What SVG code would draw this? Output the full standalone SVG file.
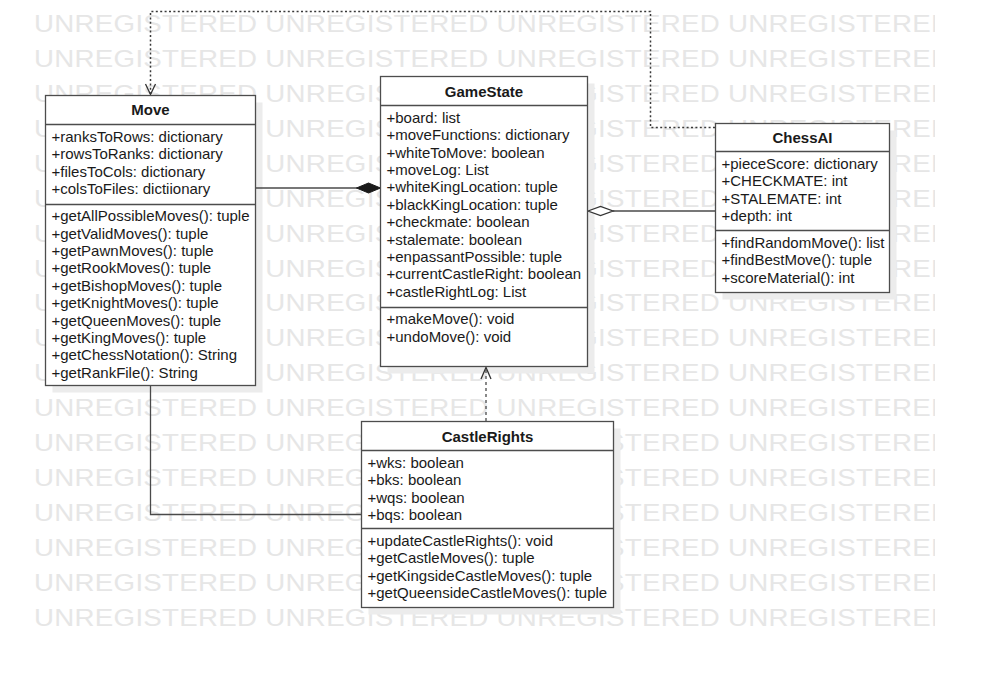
<svg xmlns="http://www.w3.org/2000/svg" width="984" height="700" viewBox="0 0 984 700">
  <defs>
    <style>
      .wm { font-family: "Liberation Sans", Arial, sans-serif; font-size: 23.5px; letter-spacing: 0.25px; fill: #e6e6e6; }
      .shadow { fill: #ececec; }
      .box { fill: #ffffff; stroke: #4d4d4d; stroke-width: 1.3; }
      .sep { stroke: #4d4d4d; stroke-width: 1.3; }
      .title { font-family: "Liberation Sans", Arial, sans-serif; font-size: 15px; font-weight: bold; fill: #1a1a1a; text-anchor: middle; }
      .item { font-family: "Liberation Sans", Arial, sans-serif; font-size: 15px; fill: #1a1a1a; }
      .line { fill: none; stroke: #4a4a4a; stroke-width: 1.3; }
      .dotted { stroke-dasharray: 2 2.4; stroke: #3a3a3a; stroke-width: 1.5; }
      .dashed { stroke-dasharray: 3 3; }
      .open { fill: none; stroke: #333333; stroke-width: 1.3; }
    </style>
    <clipPath id="wmClip">
      <rect x="0" y="0" width="935" height="700"/>
    </clipPath>
  </defs>

  <rect x="0" y="0" width="984" height="700" fill="#ffffff"/>

  <!-- background watermark rows, stretched horizontally -->
  <g id="watermark" clip-path="url(#wmClip)">
    <g transform="scale(1.178,1)">
      <text class="wm" x="28.9" y="32.3">UNREGISTERED UNREGISTERED UNREGISTERED UNREGISTERED</text>
      <text class="wm" x="28.9" y="67.2">UNREGISTERED UNREGISTERED UNREGISTERED UNREGISTERED</text>
      <text class="wm" x="28.9" y="102.1">UNREGISTERED UNREGISTERED UNREGISTERED UNREGISTERED</text>
      <text class="wm" x="28.9" y="137">UNREGISTERED UNREGISTERED UNREGISTERED UNREGISTERED</text>
      <text class="wm" x="28.9" y="171.9">UNREGISTERED UNREGISTERED UNREGISTERED UNREGISTERED</text>
      <text class="wm" x="28.9" y="206.8">UNREGISTERED UNREGISTERED UNREGISTERED UNREGISTERED</text>
      <text class="wm" x="28.9" y="241.7">UNREGISTERED UNREGISTERED UNREGISTERED UNREGISTERED</text>
      <text class="wm" x="28.9" y="276.6">UNREGISTERED UNREGISTERED UNREGISTERED UNREGISTERED</text>
      <text class="wm" x="28.9" y="311.5">UNREGISTERED UNREGISTERED UNREGISTERED UNREGISTERED</text>
      <text class="wm" x="28.9" y="346.4">UNREGISTERED UNREGISTERED UNREGISTERED UNREGISTERED</text>
      <text class="wm" x="28.9" y="381.3">UNREGISTERED UNREGISTERED UNREGISTERED UNREGISTERED</text>
      <text class="wm" x="28.9" y="416.2">UNREGISTERED UNREGISTERED UNREGISTERED UNREGISTERED</text>
      <text class="wm" x="28.9" y="451.1">UNREGISTERED UNREGISTERED UNREGISTERED UNREGISTERED</text>
      <text class="wm" x="28.9" y="486">UNREGISTERED UNREGISTERED UNREGISTERED UNREGISTERED</text>
      <text class="wm" x="28.9" y="520.9">UNREGISTERED UNREGISTERED UNREGISTERED UNREGISTERED</text>
      <text class="wm" x="28.9" y="555.8">UNREGISTERED UNREGISTERED UNREGISTERED UNREGISTERED</text>
      <text class="wm" x="28.9" y="590.7">UNREGISTERED UNREGISTERED UNREGISTERED UNREGISTERED</text>
      <text class="wm" x="28.9" y="625.6">UNREGISTERED UNREGISTERED UNREGISTERED UNREGISTERED</text>
    </g>
  </g>

  <!-- drop shadows under the class boxes -->
  <g id="shadows">
    <rect class="shadow" x="52.5" y="102.5" width="210" height="290"/>
    <rect class="shadow" x="387.5" y="83.5" width="207" height="290"/>
    <rect class="shadow" x="722.5" y="130.5" width="174" height="169"/>
    <rect class="shadow" x="368.5" y="428.5" width="252" height="186"/>
  </g>

  <!-- connectors -->
  <g id="connectors">
    <!-- ChessAI uses Move -->
    <polyline class="line dotted" points="715,127.5 650.5,127.5 650.5,11.5 150.5,11.5 150.5,94"/>
    <polyline class="open" points="145.5,84 150.5,94.5 155.5,84"/>
    <!-- Move composed into GameState -->
    <line class="line" x1="255.5" y1="188" x2="357" y2="188"/>
    <polygon points="380.5,188 368.5,183 356.5,188 368.5,193" fill="#1a1a1a" stroke="#1a1a1a" stroke-width="1"/>
    <!-- ChessAI aggregates GameState -->
    <line class="line" x1="613" y1="211" x2="715" y2="211"/>
    <polygon points="588,211 600.5,206.5 613,211 600.5,215.5" fill="#ffffff" stroke="#333333" stroke-width="1.3"/>
    <!-- CastleRights depends on GameState -->
    <line class="line dashed" x1="486" y1="421" x2="486" y2="368"/>
    <polyline class="open" points="481,379 486,367.5 491,379"/>
    <!-- Move associated with CastleRights -->
    <polyline class="line" points="150.5,386 150.5,514.5 361.5,514.5"/>
  </g>

  <!-- Move -->
  <g id="move">
    <rect class="box" x="45.5" y="95.5" width="210" height="290"/>
    <line class="sep" x1="45.5" y1="124.5" x2="255.5" y2="124.5"/>
    <line class="sep" x1="45.5" y1="204.5" x2="255.5" y2="204.5"/>
    <text class="title" x="150.5" y="115">Move</text>
    <text class="item" x="51.5" y="141.7">+ranksToRows: dictionary</text>
    <text class="item" x="51.5" y="159.1">+rowsToRanks: dictionary</text>
    <text class="item" x="51.5" y="176.5">+filesToCols: dictionary</text>
    <text class="item" x="51.5" y="193.9">+colsToFiles: dictiionary</text>
    <text class="item" x="51.5" y="221.2">+getAllPossibleMoves(): tuple</text>
    <text class="item" x="51.5" y="238.6">+getValidMoves(): tuple</text>
    <text class="item" x="51.5" y="256">+getPawnMoves(): tuple</text>
    <text class="item" x="51.5" y="273.4">+getRookMoves(): tuple</text>
    <text class="item" x="51.5" y="290.8">+getBishopMoves(): tuple</text>
    <text class="item" x="51.5" y="308.2">+getKnightMoves(): tuple</text>
    <text class="item" x="51.5" y="325.6">+getQueenMoves(): tuple</text>
    <text class="item" x="51.5" y="343">+getKingMoves(): tuple</text>
    <text class="item" x="51.5" y="360.4">+getChessNotation(): String</text>
    <text class="item" x="51.5" y="377.8">+getRankFile(): String</text>
  </g>

  <!-- GameState -->
  <g id="gamestate">
    <rect class="box" x="380.5" y="76.5" width="207" height="290"/>
    <line class="sep" x1="380.5" y1="105.5" x2="587.5" y2="105.5"/>
    <line class="sep" x1="380.5" y1="307.5" x2="587.5" y2="307.5"/>
    <text class="title" x="484" y="96.5">GameState</text>
    <text class="item" x="386.5" y="122.7">+board: list</text>
    <text class="item" x="386.5" y="140.1">+moveFunctions: dictionary</text>
    <text class="item" x="386.5" y="157.5">+whiteToMove: boolean</text>
    <text class="item" x="386.5" y="174.9">+moveLog: List</text>
    <text class="item" x="386.5" y="192.3">+whiteKingLocation: tuple</text>
    <text class="item" x="386.5" y="209.7">+blackKingLocation: tuple</text>
    <text class="item" x="386.5" y="227.1">+checkmate: boolean</text>
    <text class="item" x="386.5" y="244.5">+stalemate: boolean</text>
    <text class="item" x="386.5" y="261.9">+enpassantPossible: tuple</text>
    <text class="item" x="386.5" y="279.3">+currentCastleRight: boolean</text>
    <text class="item" x="386.5" y="296.7">+castleRightLog: List</text>
    <text class="item" x="386.5" y="324.4">+makeMove(): void</text>
    <text class="item" x="386.5" y="341.8">+undoMove(): void</text>
  </g>

  <!-- ChessAI -->
  <g id="chessai">
    <rect class="box" x="715.5" y="123.5" width="174" height="169"/>
    <line class="sep" x1="715.5" y1="151.5" x2="889.5" y2="151.5"/>
    <line class="sep" x1="715.5" y1="230.5" x2="889.5" y2="230.5"/>
    <text class="title" x="802.5" y="143">ChessAI</text>
    <text class="item" x="721.5" y="168.9">+pieceScore: dictionary</text>
    <text class="item" x="721.5" y="186.3">+CHECKMATE: int</text>
    <text class="item" x="721.5" y="203.7">+STALEMATE: int</text>
    <text class="item" x="721.5" y="221.1">+depth: int</text>
    <text class="item" x="721.5" y="247.7">+findRandomMove(): list</text>
    <text class="item" x="721.5" y="265.1">+findBestMove(): tuple</text>
    <text class="item" x="721.5" y="282.5">+scoreMaterial(): int</text>
  </g>

  <!-- CastleRights -->
  <g id="castlerights">
    <rect class="box" x="361.5" y="421.5" width="252" height="186"/>
    <line class="sep" x1="361.5" y1="450.5" x2="613.5" y2="450.5"/>
    <line class="sep" x1="361.5" y1="528.5" x2="613.5" y2="528.5"/>
    <text class="title" x="487.5" y="441.5">CastleRights</text>
    <text class="item" x="367.5" y="467.7">+wks: boolean</text>
    <text class="item" x="367.5" y="485.1">+bks: boolean</text>
    <text class="item" x="367.5" y="502.5">+wqs: boolean</text>
    <text class="item" x="367.5" y="519.9">+bqs: boolean</text>
    <text class="item" x="367.5" y="545.7">+updateCastleRights(): void</text>
    <text class="item" x="367.5" y="563.1">+getCastleMoves(): tuple</text>
    <text class="item" x="367.5" y="580.5">+getKingsideCastleMoves(): tuple</text>
    <text class="item" x="367.5" y="597.9">+getQueensideCastleMoves(): tuple</text>
  </g>
</svg>
